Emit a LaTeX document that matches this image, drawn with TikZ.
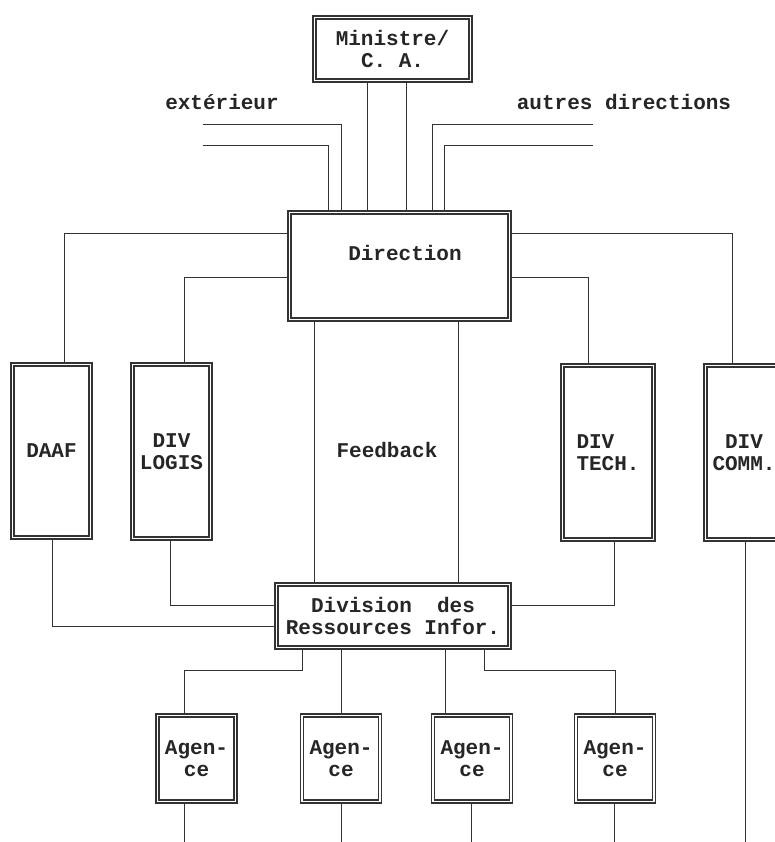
\documentclass[tikz,border=0pt]{standalone}
\usepackage{fontspec}
\usepackage{tikz}
\newfontfamily\orgfont{Liberation Mono}
\newcommand{\orgtext}{\orgfont\bfseries\fontsize{21}{22}\selectfont}
\tikzset{
  unit/.style={draw=black!80, double=white, double distance=1.8pt, line width=1.5pt,
    outer sep=2.4pt, inner sep=0pt, align=center},
  link/.style={draw=black!80, line width=1pt},
}
\begin{document}
\begin{tikzpicture}[x=1pt, y=-1pt, font=\orgtext, text=black!85]
  \fill[white] (0,0) rectangle (775,842);
  \useasboundingbox (0,0) rectangle (775,842);
 %top
    \node[unit, minimum width=156, minimum height=63] (mini) at (392.5,49) {Ministre/\\C. A.};
    \node (ext) at (222,102) {extérieur};
    \node (aut) at (624,102) {autres directions};
    \coordinate (ext1) at (203,125);
    \coordinate (ext2) at (203,146);
    \coordinate (aut1) at (593,125);
    \coordinate (aut2) at (593,146);
    \node[unit, minimum width=220, minimum height=107, text depth=26pt] (dir) at (399.5,266) {\hspace{11pt}Direction};
 %middle row
    \node[unit, minimum width=78, minimum height=173] (daaf) at (51.5,451) {DAAF};
    \node[unit, minimum width=78, minimum height=174] (logis) at (171.5,451.5) {DIV\\LOGIS};
    \node (fb) at (387,450) {Feedback};
    \node[unit, minimum width=91, minimum height=174, align=left] (tech) at (608,452.5) {DIV\\TECH.};
    \node[unit, minimum width=77, minimum height=174] (comm) at (744,452.5) {DIV\\COMM.};
    \node[unit, minimum width=233, minimum height=63] (div) at (393,616) {Division~~des\\Ressources Infor.};
 %agences
    \foreach \n/\x in {ag1/196.5, ag2/341, ag3/472, ag4/615}
      \node[unit, minimum width=78, minimum height=86] (\n) at (\x,758.5) {Agen-\\ce};
    \coordinate (bot) at (0,842);
 %links top
    \draw[link] (mini.south -| 367,0) -- (dir.north -| 367,0);
    \draw[link] (mini.south -| 406,0) -- (dir.north -| 406,0);
    \draw[link] (ext1) -| (dir.north -| 341,0);
    \draw[link] (ext2) -| (dir.north -| 328,0);
    \draw[link] (aut1) -| (dir.north -| 432,0);
    \draw[link] (aut2) -| (dir.north -| 444,0);
 %links direction
    \draw[link] (dir.west |- 0,233) -| (daaf.north -| 64,0);
    \draw[link] (dir.west |- 0,277) -| (logis.north -| 184,0);
    \draw[link] (dir.east |- 0,233) -| (comm.north -| 732,0);
    \draw[link] (dir.east |- 0,277) -| (tech.north -| 588,0);
    \draw[link] (dir.south -| 314,0) -- (div.north -| 314,0);
    \draw[link] (dir.south -| 458,0) -- (div.north -| 458,0);
 %links division
    \draw[link] (daaf.south -| 52,0) |- (div.west |- 0,626);
    \draw[link] (logis.south -| 170,0) |- (div.west |- 0,605);
    \draw[link] (tech.south -| 614,0) |- (div.east |- 0,605);
    \draw[link] (div.south -| 302,0) -- ++(0,21) -| (ag1.north -| 184,0);
    \draw[link] (div.south -| 341,0) -- (ag2.north -| 341,0);
    \draw[link] (div.south -| 445,0) -- (ag3.north -| 445,0);
    \draw[link] (div.south -| 484,0) -- ++(0,21) -| (ag4.north -| 615,0);
 %links bottom
    \foreach \n/\x in {ag1/184, ag2/341, ag3/471, ag4/614, comm/745}
      \draw[link] (\n.south -| \x,0) -- (\x,0 |- bot);
\end{tikzpicture}
\end{document}
